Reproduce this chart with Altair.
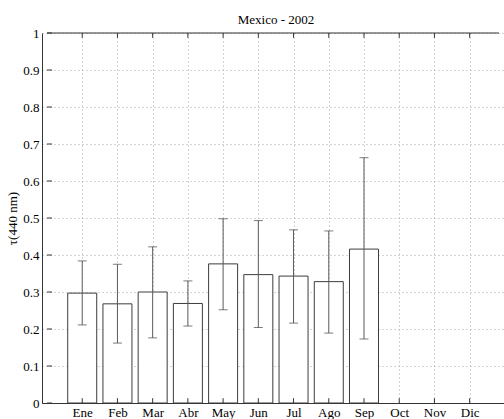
import altair as alt
import pandas as pd

months = ["Ene", "Feb", "Mar", "Abr", "May", "Jun", "Jul", "Ago", "Sep", "Oct", "Nov", "Dic"]
means = [0.297, 0.268, 0.300, 0.269, 0.376, 0.347, 0.343, 0.328, 0.416]
upper = [0.384, 0.375, 0.422, 0.330, 0.498, 0.493, 0.468, 0.465, 0.663]
lower = [0.211, 0.162, 0.176, 0.208, 0.252, 0.204, 0.216, 0.189, 0.173]
y_ticks = [0, 0.1, 0.2, 0.3, 0.4, 0.5, 0.6, 0.7, 0.8, 0.9, 1.0]

df = pd.DataFrame({
    "idx": list(range(1, len(means) + 1)),
    "month": months[:len(means)],
    "mean": means,
    "upper": upper,
    "lower": lower,
})
tick_df = pd.DataFrame({"idx": list(range(1, 13))})
ytick_df = pd.DataFrame({"v": y_ticks})

FONT = "'Liberation Serif', serif"
PLOT_W = 462
X_MAX = PLOT_W / 36.0
month_expr = "[" + ",".join("'%s'" % m for m in months) + "][datum.value - 1]"

xscale = alt.Scale(domain=[0, X_MAX], nice=False, zero=False)
yscale = alt.Scale(domain=[0, 1], nice=False)

x_axis = alt.Axis(
    values=list(range(1, 13)), labelExpr=month_expr, title=None,
    grid=True, gridDash=[1, 3], gridColor="#a8a8a8", gridWidth=1,
    domainColor="#333333", ticks=False, labelFont=FONT, labelFontSize=13,
    labelColor="black", labelPadding=3, labelOverlap=False,
)
y_axis = alt.Axis(
    values=y_ticks, format="~g", title="τ(440 nm)",
    grid=True, gridDash=[1, 3], gridColor="#a8a8a8", gridWidth=1,
    domainColor="#333333", ticks=False, labelFont=FONT, labelFontSize=13,
    labelColor="black", labelPadding=3, labelOverlap=False,
    titleFont=FONT, titleFontSize=13,
    titleFontWeight="normal", titleColor="black", titlePadding=3,
)


def X(field):
    return alt.X(field, scale=xscale, axis=x_axis)


def Y(field):
    return alt.Y(field, scale=yscale, axis=y_axis)


def XD(v):
    return alt.datum(v, scale=xscale, axis=x_axis)


def YD(v):
    return alt.datum(v, scale=yscale, axis=y_axis)


base = alt.Chart(df)

bars = base.mark_bar(size=29, fill="white", stroke="#3c3c3c", strokeWidth=1).encode(
    x=X("idx:Q"), y=Y("mean:Q"),
)
err = base.mark_rule(color="#5a5a5a", strokeWidth=1).encode(
    x=X("idx:Q"), y=Y("lower:Q"), y2="upper:Q"
)
cap_hi = base.mark_tick(orient="horizontal", size=9, thickness=1, color="#444444").encode(
    x=X("idx:Q"), y=Y("upper:Q")
)
cap_lo = base.mark_tick(orient="horizontal", size=9, thickness=1, color="#444444").encode(
    x=X("idx:Q"), y=Y("lower:Q")
)

top_line = alt.Chart(pd.DataFrame({"a": [0]})).mark_rule(color="#333333", strokeWidth=1).encode(
    x=XD(0), x2=alt.datum(X_MAX), y=YD(1)
)
ticks_bottom = alt.Chart(tick_df).mark_rule(color="#333333").encode(
    x=X("idx:Q"), y=YD(0), y2=alt.datum(0.013)
)
ticks_top = alt.Chart(tick_df).mark_rule(color="#333333").encode(
    x=X("idx:Q"), y=YD(1), y2=alt.datum(0.987)
)
ticks_left = alt.Chart(ytick_df).mark_rule(color="#333333").encode(
    y=Y("v:Q"), x=XD(0), x2=alt.datum(0.14)
)

chart = alt.layer(
    bars, ticks_bottom, ticks_top, ticks_left, top_line, err, cap_hi, cap_lo
).properties(
    width=PLOT_W, height=370,
    title=alt.TitleParams("Mexico - 2002", font=FONT, fontSize=13, fontWeight="normal",
                          color="black", anchor="middle", dx=3, dy=5, offset=5),
    autosize=alt.AutoSizeParams(type="none"),
    padding={"left": 42, "top": 33, "right": 0, "bottom": 16},
).configure(
    background="white", font=FONT
).configure_view(
    stroke=None
).configure_axis(
    labelFont=FONT, labelFontSize=13, titleFont=FONT, titleFontSize=13, titleFontWeight="normal"
)

chart.save("out.html", embed_options={"renderer": "svg", "actions": False})
